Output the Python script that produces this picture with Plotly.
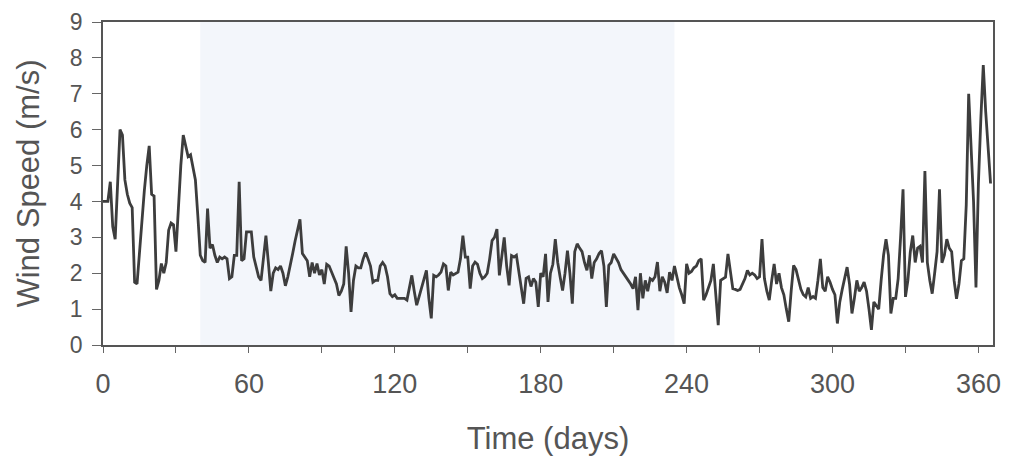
import plotly.graph_objects as go

# ---- data ----
days = list(range(0, 366))
speed_by_segment = [
    # days 0-59
    [4.0, 4.0, 4.0, 4.55, 3.3, 2.95, 4.6, 6.0, 5.85, 4.6, 4.2, 3.95, 3.83, 1.75, 1.7, 2.6,
     3.5, 4.3, 5.0, 5.55, 4.2, 4.15, 1.55, 1.8, 2.27, 2.0, 2.3, 3.2, 3.4, 3.35, 2.6,
     4.0, 5.0, 5.85, 5.5, 5.25, 5.3, 4.9, 4.6, 3.6, 2.5, 2.35, 2.3, 3.8, 2.7, 2.8,
     2.5, 2.3, 2.45, 2.4, 2.45, 2.4, 1.85, 1.9, 2.5, 2.5, 4.55, 2.35, 2.4, 3.15],
    # days 60-121
    [3.15, 3.15, 2.45, 2.2, 1.9, 1.8, 2.4, 3.05, 2.3, 1.5, 2.0, 2.15, 2.1, 2.2, 2.0,
     1.65, 1.9, 2.2, 2.55, 2.9, 3.2, 3.5, 2.55, 2.45, 2.35, 1.9, 2.3, 2.0, 2.27, 1.95,
     2.1, 1.7, 2.25, 2.2, 2.05, 1.9, 1.7, 1.38, 1.5, 1.7, 2.75, 2.0, 0.92, 1.8, 2.2,
     2.15, 2.15, 2.4, 2.58, 2.4, 2.2, 1.75, 1.8, 1.8, 2.2, 2.3, 2.2, 1.9, 1.43, 1.35,
     1.4, 1.3],
    # days 122-180
    [1.3, 1.28, 1.3, 1.25, 1.6, 1.94, 1.5, 1.11, 1.35, 1.6, 1.85, 2.08, 1.3, 0.74,
     1.94, 1.9, 1.95, 2.03, 2.26, 2.2, 1.52, 2.03, 1.95, 2.0, 2.03, 2.4, 3.05, 2.45,
     2.45, 1.57, 2.2, 2.31, 2.25, 2.0, 1.85, 1.9, 2.0, 2.4, 2.91, 3.0, 3.23, 1.94,
     2.5, 3.0, 2.2, 1.66, 2.49, 2.45, 2.5, 2.08, 1.6, 1.15, 1.86, 1.9, 1.63, 1.85,
     1.75, 1.06, 2.0],
    # days 181-245
    [1.9, 2.54, 1.2, 2.0, 2.25, 2.95, 2.3, 1.89, 1.52, 2.0, 2.63, 2.0, 1.15, 2.6,
     2.82, 2.7, 2.6, 2.3, 2.08, 2.5, 1.85, 2.3, 2.4, 2.55, 2.63, 2.2, 1.06, 2.22,
     2.3, 2.54, 2.4, 2.3, 2.1, 1.99, 1.9, 1.8, 1.7, 1.57, 1.9, 0.97, 2.0, 1.3, 1.8,
     1.5, 1.85, 1.8, 1.9, 2.31, 1.5, 1.9, 1.75, 1.45, 2.03, 1.8, 2.2, 1.85, 1.6,
     1.4, 1.15, 2.26, 2.0, 2.05, 2.15, 2.2, 2.35],
    # days 246-306
    [2.4, 1.25, 1.4, 1.6, 1.8, 2.26, 1.5, 0.55, 1.8, 1.85, 1.89, 2.54, 2.0, 1.57,
     1.55, 1.52, 1.55, 1.7, 1.85, 2.08, 1.95, 2.0, 1.95, 1.85, 1.9, 2.95, 1.85, 1.5,
     1.25, 1.8, 2.26, 1.7, 2.0, 1.6, 1.4, 1.0, 0.65, 1.5, 2.22, 2.1, 1.8, 1.55, 1.4,
     1.34, 1.6, 1.3, 1.35, 1.3, 1.8, 2.4, 1.6, 1.5, 1.9, 1.75, 1.55, 1.4, 0.6, 1.2,
     1.55, 1.9, 2.17],
    # days 307-365
    [1.7, 0.88, 1.3, 1.8, 1.5, 1.6, 1.75, 1.5, 1.0, 0.42, 1.2, 1.1, 1.0, 1.8, 2.5,
     2.95, 2.5, 0.88, 1.3, 1.3, 1.85, 3.0, 4.34, 1.34, 1.8, 2.6, 3.05, 2.3, 2.7, 2.75,
     2.3, 4.85, 2.3, 1.8, 1.43, 2.0, 2.6, 4.34, 2.29, 2.5, 2.95, 2.7, 2.6, 1.8, 1.29,
     1.7, 2.35, 2.4, 3.9, 7.0, 5.5, 4.0, 1.6, 4.5, 6.3, 7.8, 6.5, 5.6, 4.5],
]
wind_speed = [v for seg in speed_by_segment for v in seg]
days = days[:len(wind_speed)]

x_tick_vals = list(range(0, 361, 30))
x_tick_text = [str(v) if v % 60 == 0 else "" for v in x_tick_vals]
y_tick_vals = list(range(0, 10))

x_title = "Time (days)"
y_title = "Wind Speed (m/s)"
tint_span = [40, 235]   # faint bluish tint visible in the scanned figure

font_family = "Liberation Sans, Arial, sans-serif"
grey = "#555555"

fig = go.Figure()
fig.add_trace(go.Scatter(
    x=days, y=wind_speed, mode="lines",
    line=dict(color="#3d3d3d", width=2.8),
    showlegend=False, hoverinfo="x+y",
))

fig.add_shape(type="rect", xref="x", yref="paper",
              x0=tint_span[0], x1=tint_span[1], y0=0, y1=1,
              fillcolor="#f3f6fb", line=dict(width=0), layer="below")

# the page adds an 8px body margin, so the figure is 8px smaller each way
fig.update_layout(
    width=1002, height=455,
    margin=dict(l=95, r=17, t=14, b=118),
    paper_bgcolor="white", plot_bgcolor="white",
    font=dict(family=font_family, color=grey),
)
fig.update_xaxes(
    range=[0, 366], tickvals=x_tick_vals, ticktext=x_tick_text,
    ticks="outside", ticklen=6, tickcolor="#666", tickwidth=1.2,
    showline=True, linecolor="#555", linewidth=1.6, mirror=True,
    showgrid=False, zeroline=False, automargin=False,
    ticklabelstandoff=8, ticklabeloverflow="allow",
    tickfont=dict(size=27, color=grey),
    title=dict(text=x_title, font=dict(size=31, color=grey), standoff=29),
)
fig.update_yaxes(
    range=[0, 9], tickvals=y_tick_vals,
    ticks="outside", ticklen=9, tickcolor="#666", tickwidth=1.2,
    showline=True, linecolor="#555", linewidth=1.6, mirror=True,
    showgrid=False, zeroline=False, automargin=False,
    ticklabelstandoff=5, ticklabeloverflow="allow",
    tickfont=dict(size=23, color=grey),
    title=dict(text=y_title, font=dict(size=31, color=grey), standoff=21),
)

fig.write_html("out.html")
